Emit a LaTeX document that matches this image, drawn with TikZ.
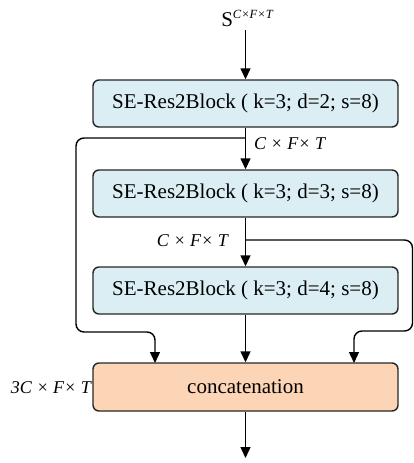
\documentclass[tikz,border=0pt]{standalone}
\usepackage{fontspec}
\setmainfont{Liberation Serif}
\usetikzlibrary{arrows.meta}
\definecolor{blockblue}{RGB}{218,238,243}
\definecolor{concatorange}{RGB}{251,213,181}
\begin{document}
\begin{tikzpicture}[x=1pt,y=-1pt,
  blk/.style={draw=black!85, line width=1.4pt, rounded corners=6pt, fill=blockblue,
    minimum width=305pt, minimum height=47pt, inner sep=0pt,
    font=\fontsize{21}{24}\selectfont},
  conc/.style={blk, fill=concatorange, minimum height=48pt},
  arr/.style={line width=1.4pt, -{Triangle[length=11pt,width=10pt]}},
  loop/.style={arr, rounded corners=8pt},
  lab/.style={font=\fontsize{18}{21}\selectfont\itshape, inner sep=0pt}]
\useasboundingbox (0,0) rectangle (414,463);
\node[blk] (b1) at (245.5,103.5) {SE-Res2Block ( k=3; d=2; s=8)};
\node[blk] (b2) at (245.5,193.5) {SE-Res2Block ( k=3; d=3; s=8)};
\node[blk] (b3) at (245.5,290.5) {SE-Res2Block ( k=3; d=4; s=8)};
\node[conc] (cc) at (245.5,387) {concatenation};
\node[inner sep=0pt, anchor=base, font=\fontsize{21}{24}\selectfont] (s) at (247,26)
  {S\raisebox{8pt}{\fontsize{12.5}{14}\selectfont\itshape C×F×T}};
\coordinate (sin) at (245.5,30);
\coordinate (out) at (245.5,458);
\draw[arr] (sin) -- (b1.north);
\draw[arr] (b1.south) -- (b2.north);
\draw[arr] (b2.south) -- (b3.north);
\draw[arr] (b3.south) -- (cc.north);
\draw[arr] (cc.south) -- (out);
% left skip
\coordinate (l0) at (245.5,138);
\coordinate (l1) at (76,138);
\coordinate (l2) at (76,332);
\coordinate (l3) at (155,332);
\coordinate (l4) at (155,363);
\draw[loop] (l0) -- (l1) -- (l2) -- (l3) -- (l4);
% right skip
\coordinate (r0) at (245.5,240);
\coordinate (r1) at (412.5,240);
\coordinate (r2) at (412.5,331);
\coordinate (r3) at (354,331);
\coordinate (r4) at (354,363);
\draw[loop] (r0) -- (r1) -- (r2) -- (r3) -- (r4);
\node[lab, anchor=west] (t1) at (254,144) {C × F× T};
\node[lab, anchor=east] (t2) at (228,241) {C × F× T};
\node[lab, anchor=east] (t3) at (91,388) {3C × F× T};
\end{tikzpicture}
\end{document}
